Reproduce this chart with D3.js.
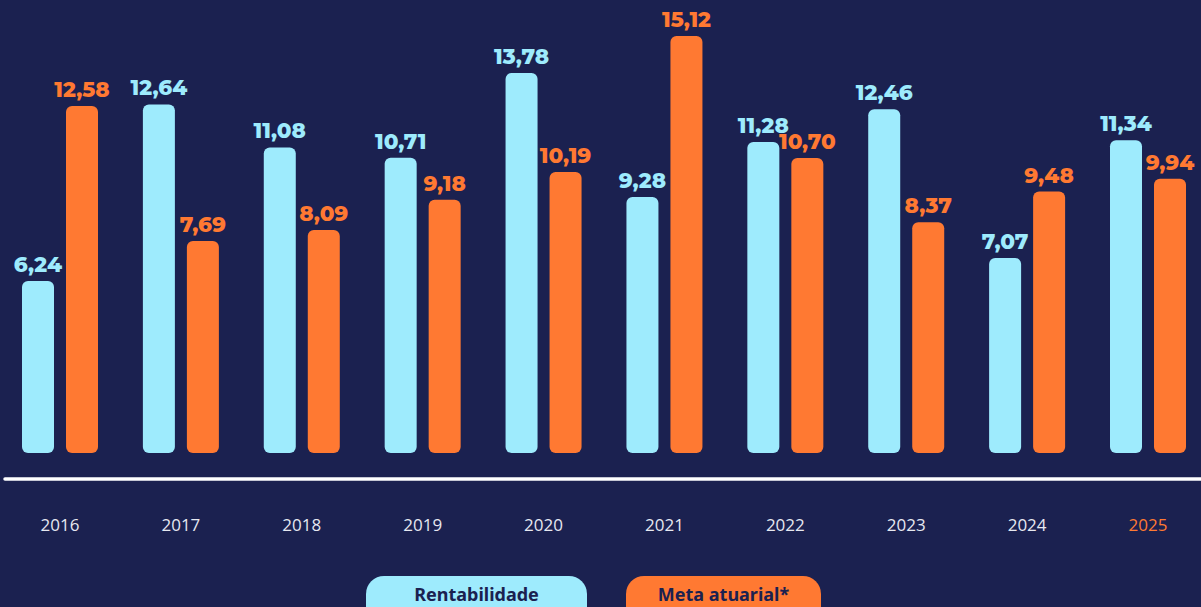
<!DOCTYPE html>
<html>
<head>
<meta charset="utf-8">
<script src="https://cdn.jsdelivr.net/npm/d3@7"></script>
<style>
  html, body { margin: 0; padding: 0; background: #1b2150; }
  svg { display: block; }
</style>
</head>
<body>
<div id="chart"></div>
<script>
const years = ["2016", "2017", "2018", "2019", "2020", "2021", "2022", "2023", "2024", "2025"];
const rentabilidade = [6.24, 12.64, 11.08, 10.71, 13.78, 9.28, 11.28, 12.46, 7.07, 11.34];
const metaAtuarial = [12.58, 7.69, 8.09, 9.18, 10.19, 15.12, 10.70, 8.37, 9.48, 9.94];
const seriesNames = ["Rentabilidade", "Meta atuarial*"];

function drawChart() {
  const width = 1201;
  const height = 607;
  const bg = "#1b2150";
  const cyan = "#9eebfd";
  const orange = "#ff7932";
  const barWidth = 32;
  const barGap = 12;
  const valueFont = "Montserrat, 'Open Sans', 'Noto Sans', sans-serif";

  const svg = d3.select("#chart")
    .append("svg")
    .attr("width", width)
    .attr("height", height);

  svg.append("rect")
    .attr("width", width)
    .attr("height", height)
    .attr("fill", bg);

  const x = d3.scalePoint()
    .domain(years)
    .range([60, 1148]);

  const y = d3.scaleLinear()
    .domain([0, 15.12])
    .range([453, 36]);

  const data = years.map((yr, i) => ({
    year: yr,
    values: [
      { key: 0, value: rentabilidade[i], color: cyan },
      { key: 1, value: metaAtuarial[i], color: orange }
    ]
  }));

  const groups = svg.append("g")
    .selectAll("g")
    .data(data)
    .join("g")
    .attr("transform", d => `translate(${x(d.year)},0)`);

  const barX = k => k === 0 ? -(barWidth + barGap / 2) : barGap / 2;

  // Bars
  groups.selectAll("rect")
    .data(d => d.values)
    .join("rect")
    .attr("x", d => barX(d.key))
    .attr("y", d => y(d.value))
    .attr("width", barWidth)
    .attr("height", d => y(0) - y(d.value))
    .attr("rx", 6)
    .attr("ry", 6)
    .attr("fill", d => d.color);

  // Value labels
  groups.selectAll("text.value")
    .data(d => d.values)
    .join("text")
    .attr("class", "value")
    .attr("x", d => barX(d.key) + barWidth / 2)
    .attr("y", d => y(d.value) - 9)
    .attr("text-anchor", "middle")
    .attr("font-family", valueFont)
    .attr("font-weight", 800)
    .attr("font-size", 21.5)
    .attr("fill", d => d.color)
    .text(d => d3.format(".2f")(d.value).replace(".", ","));

  // Baseline
  svg.append("line")
    .attr("x1", 5)
    .attr("x2", width)
    .attr("y1", 479)
    .attr("y2", 479)
    .attr("stroke", "#ffffff")
    .attr("stroke-width", 3.5)
    .attr("stroke-linecap", "round");

  // Year labels
  svg.append("g")
    .selectAll("text")
    .data(years)
    .join("text")
    .attr("x", d => x(d))
    .attr("y", 531)
    .attr("text-anchor", "middle")
    .attr("font-family", "'Open Sans', sans-serif")
    .attr("font-size", 17)
    .attr("fill", (d, i) => i === years.length - 1 ? orange : "#e6e8f0")
    .text(d => d);

  // Legend pills
  const legend = [
    { name: seriesNames[0], color: cyan, x0: 366, x1: 587 },
    { name: seriesNames[1], color: orange, x0: 626, x1: 821 }
  ];

  const lg = svg.append("g")
    .selectAll("g")
    .data(legend)
    .join("g");

  lg.append("rect")
    .attr("x", d => d.x0)
    .attr("y", 576)
    .attr("width", d => d.x1 - d.x0)
    .attr("height", 48)
    .attr("rx", 18)
    .attr("fill", d => d.color);

  lg.append("text")
    .attr("x", d => (d.x0 + d.x1) / 2)
    .attr("y", 601)
    .attr("text-anchor", "middle")
    .attr("font-family", "'Noto Sans', Lato, sans-serif")
    .attr("font-weight", 700)
    .attr("font-size", 18)
    .attr("fill", bg)
    .text(d => d.name);
}

drawChart();
</script>
</body>
</html>
